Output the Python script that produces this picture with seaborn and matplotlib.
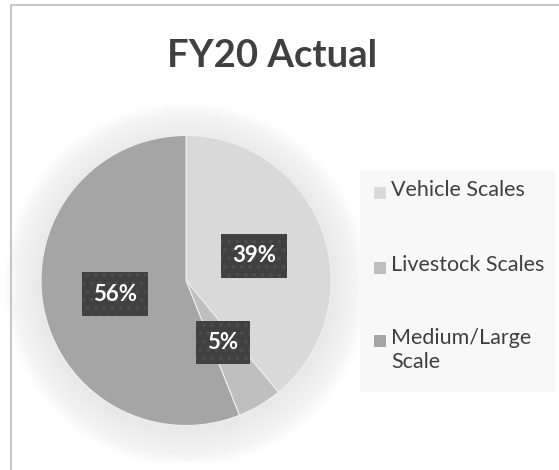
import matplotlib
matplotlib.use("Agg")
import matplotlib.pyplot as plt
from matplotlib.patches import Rectangle, Circle
from matplotlib.lines import Line2D
import seaborn as sns

# data
labels = ["Vehicle Scales", "Livestock Scales", "Medium/Large\nScale"]
shares = [39, 5, 56]
title = "FY20 Actual"

sns.set_theme(style="white")
plt.rcParams["font.family"] = ["Lato", "DejaVu Sans"]
plt.rcParams["hatch.linewidth"] = 1.6
colors = sns.color_palette(["#d9d9d9", "#bfbfbf", "#a5a5a5"])

fig = plt.figure(figsize=(5.59, 4.70), dpi=100)
fig.patch.set_facecolor("white")

# pie axes: radius 1 -> ~145 px, centre at (186, 280) px
ax = fig.add_axes([0.0085, 0.0176, 0.6485, 0.7713])
ax.set_xlim(-1.25, 1.25)
ax.set_ylim(-1.25, 1.25)
ax.set_aspect("equal")
ax.axis("off")

# soft glow around the pie
for k in range(16):
    r = 1.0 + 0.016 * (k + 1)
    ax.add_patch(Circle((0, -0.03), r, color="#b4b4b4", alpha=0.016, lw=0, zorder=0))

wedges, texts, autotexts = ax.pie(
    shares, colors=colors, startangle=90, counterclock=False,
    autopct="%1.0f%%", pctdistance=0.5, radius=1.0,
    wedgeprops=dict(linewidth=0.8, edgecolor="#eeeeee"),
    textprops=dict(color="white", fontsize=16, fontweight="bold"),
)
for w in wedges:
    w.set_zorder(2)
for t in autotexts:
    t.set_zorder(5)
    t.set_bbox(dict(boxstyle="square,pad=0.5", fc="#404040", ec="#4c4c4c",
                    lw=0, hatch=".."))

# title
fig.text(0.487, 0.880, title, ha="center", va="center", fontsize=27.5,
         fontweight="bold", color="#404040")

# legend panel
fig.add_artist(Rectangle((360 / 559, 1 - 392 / 470), 195 / 559, 222 / 470,
                         transform=fig.transFigure, fc="#f8f8f8", ec="none", zorder=1))
ys = [193, 268, 341]
for lab, col, yp in zip(labels, colors, ys):
    yf = 1 - yp / 470
    fig.add_artist(Rectangle((374 / 559, yf - 6 / 470), 12 / 559, 12 / 470,
                             transform=fig.transFigure, fc=col, ec="none", zorder=3))
    fig.text(391 / 559, yf + 13 / 470, lab, ha="left", va="top", fontsize=15.5,
             color="#404040", linespacing=1.25, zorder=4)

# chart frame
fig.add_artist(Line2D([11 / 559, 11 / 559], [0, 1 - 5 / 470], transform=fig.transFigure,
                      color="#c8c8c8", lw=1.5, zorder=10))
fig.add_artist(Line2D([11 / 559, 1], [1 - 5 / 470, 1 - 5 / 470], transform=fig.transFigure,
                      color="#c8c8c8", lw=1.5, zorder=10))

fig.savefig("out.png", dpi=100)
